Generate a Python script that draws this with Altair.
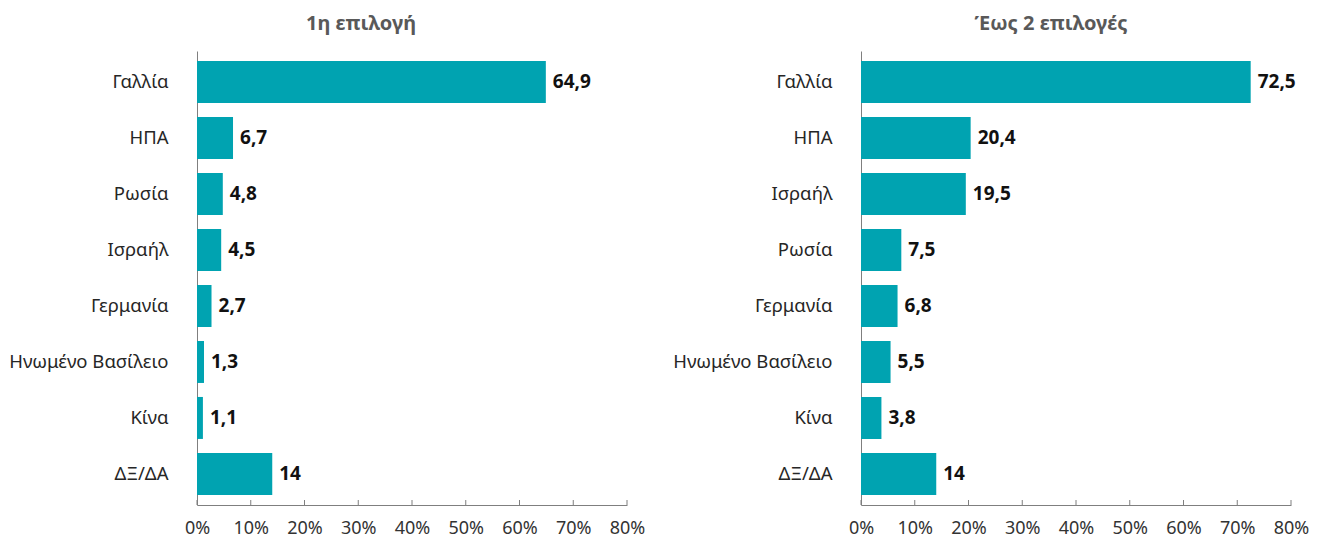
import altair as alt
import pandas as pd

cats_left = ["Γαλλία", "ΗΠΑ", "Ρωσία", "Ισραήλ", "Γερμανία", "Ηνωμένο Βασίλειο", "Κίνα", "ΔΞ/ΔΑ"]
vals_left = [64.9, 6.7, 4.8, 4.5, 2.7, 1.3, 1.1, 14]

cats_right = ["Γαλλία", "ΗΠΑ", "Ισραήλ", "Ρωσία", "Γερμανία", "Ηνωμένο Βασίλειο", "Κίνα", "ΔΞ/ΔΑ"]
vals_right = [72.5, 20.4, 19.5, 7.5, 6.8, 5.5, 3.8, 14]

titles = ["1η επιλογή", "Έως 2 επιλογές"]
tick_values = [0, 10, 20, 30, 40, 50, 60, 70, 80]

FONT = "Noto Sans"
BAR = "#00A3B1"
AXIS = "#7f7f7f"
H = 454
W = 430


def panel(cats, vals, title, dx):
    df = pd.DataFrame({"cat": cats, "v": vals})
    base = alt.Chart(df).transform_calculate(
        lbl="replace(toString(datum.v), '.', ',')"
    )
    y = alt.Y(
        "cat:N",
        sort=cats,
        title=None,
        scale=alt.Scale(paddingInner=0.25, paddingOuter=0.18),
        axis=alt.Axis(
            ticks=False,
            labelPadding=29,
            labelFontSize=18.5,
            labelFont=FONT,
            labelColor="#262626",
            domainColor=AXIS,
            labelLimit=400,
        ),
    )
    x = alt.X(
        "v:Q",
        title=None,
        scale=alt.Scale(domain=[0, 80], nice=False),
        axis=alt.Axis(
            values=tick_values,
            labelExpr="datum.value + '%'",
            labelFlush=False,
            labelOverlap=False,
            grid=False,
            ticks=False,
            domainColor=AXIS,
            labelFontSize=18,
            labelFont=FONT,
            labelColor="#333333",
            labelPadding=14,
        ),
    )
    bars = base.mark_bar(color=BAR).encode(x=x, y=y)
    text = base.mark_text(
        align="left", dx=7, fontSize=19, fontWeight="bold", font=FONT, color="#111111"
    ).encode(x=alt.X("v:Q"), y=alt.Y("cat:N", sort=cats), text="lbl:N")
    ticks = (
        alt.Chart(pd.DataFrame({"t": tick_values}))
        .mark_rule(color=AXIS, strokeWidth=1)
        .encode(x=alt.X("t:Q"), y=alt.value(H - 5), y2=alt.value(H))
    )
    return (bars + text + ticks).properties(
        width=W,
        height=H,
        title=alt.TitleParams(
            text=title,
            fontSize=20,
            fontWeight="bold",
            font=FONT,
            color="#595959",
            anchor="middle",
            dx=dx,
            offset=17,
        ),
    )


left = panel(cats_left, vals_left, titles[0], -51)
right = panel(cats_right, vals_right, titles[1], -25)

chart = alt.hconcat(left, right, spacing=27).properties(
    padding={"left": 0, "top": 6, "right": 0, "bottom": 0}
).configure_view(stroke=None)

chart.save("out.html", embed_options={"renderer": "svg", "actions": False})
